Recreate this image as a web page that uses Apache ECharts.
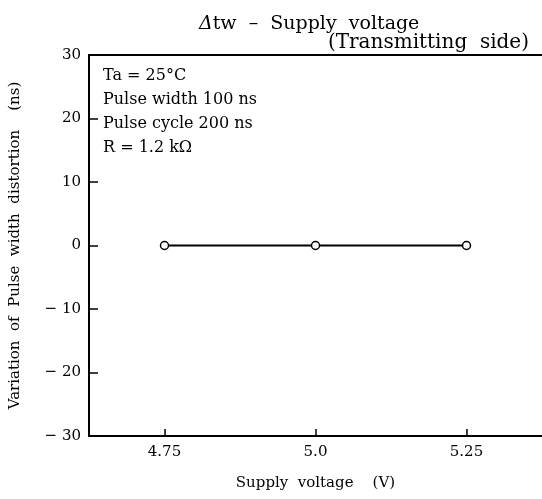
<!DOCTYPE html>
<html><head><meta charset="utf-8">
<script src="https://cdn.jsdelivr.net/npm/echarts@6/dist/echarts.min.js"></script>
<style>html,body{margin:0;padding:0;background:#fff}#c{width:542px;height:499px}</style>
</head><body><div id="c"></div>
<script>
const voltages = [4.75, 5.0, 5.25];
const distortion = [0, 0, 0];
const xTickValues = [4.75, 5.0, 5.25];
const xTickLabels = ['4.75', '5.0', '5.25'];
const notes = ['Ta = 25°C', 'Pulse width 100 ns', 'Pulse cycle 200 ns', 'R = 1.2 kΩ'];

const FONT = 'DejaVu Serif';
const chart = echarts.init(document.getElementById('c'));
chart.setOption({
  animation: false,
  backgroundColor: '#fff',
  textStyle: {fontFamily: FONT, color: '#000'},
  grid: {left: 84, right: -1, top: 55, bottom: 63, containLabel: false},
  title: [
    {text: '{i|Δ}tw  –  Supply  voltage', left: 194, top: 10,
     textStyle: {fontFamily: FONT, fontSize: 19, fontWeight: 'normal', color: '#000',
       rich: {i: {fontStyle: 'italic', fontFamily: FONT, fontSize: 19, color: '#000'}}}},
    {text: '(Transmitting  side)', right: 8, top: 28,
     textStyle: {fontFamily: FONT, fontSize: 20, fontWeight: 'normal', color: '#000'}}
  ],
  xAxis: [{
    type: 'value', min: 4.625, max: 5.375, interval: 0.125,
    name: 'Supply  voltage    (V)', nameLocation: 'middle', nameGap: 40,
    nameTextStyle: {fontFamily: FONT, fontSize: 15, color: '#000'},
    axisLine: {onZero: false, lineStyle: {color: '#000', width: 2}},
    axisTick: {inside: true, length: 7, lineStyle: {color: '#000', width: 1.5}, customValues: xTickValues},
    axisLabel: {fontFamily: FONT, fontSize: 15, color: '#000', margin: 9, customValues: xTickValues,
      formatter: v => { const i = xTickValues.findIndex(t => Math.abs(t - v) < 1e-9); return i >= 0 ? xTickLabels[i] : ''; }},
    splitLine: {show: false}
  }, {
    type: 'value', position: 'top', min: 4.625, max: 5.375,
    axisLine: {show: true, onZero: false, lineStyle: {color: '#000', width: 2}},
    axisTick: {show: false}, axisLabel: {show: false}, splitLine: {show: false}
  }],
  yAxis: {
    type: 'value', min: -30, max: 30, interval: 10,
    name: 'Variation  of  Pulse  width  distortion    (ns)', nameLocation: 'middle', nameGap: 66,
    nameTextStyle: {fontFamily: FONT, fontSize: 15, color: '#000'},
    axisLine: {show: true, onZero: false, lineStyle: {color: '#000', width: 2}},
    axisTick: {inside: true, length: 9, lineStyle: {color: '#000', width: 1.5}},
    axisLabel: {fontFamily: FONT, fontSize: 15, color: '#000', margin: 8,
      formatter: v => v < 0 ? '− ' + Math.abs(v) : String(v)},
    splitLine: {show: false}
  },
  graphic: notes.map((t, i) => ({
    type: 'text', left: 103, top: 68 + i * 24,
    style: {text: t, font: '16px "' + FONT + '"', fill: '#000'}
  })),
  series: [{
    type: 'line',
    data: voltages.map((v, i) => [v, distortion[i]]),
    symbol: 'circle', symbolSize: 8,
    lineStyle: {color: '#000', width: 2},
    itemStyle: {color: '#fff', borderColor: '#000', borderWidth: 1.5}
  }]
});
</script></body></html>
